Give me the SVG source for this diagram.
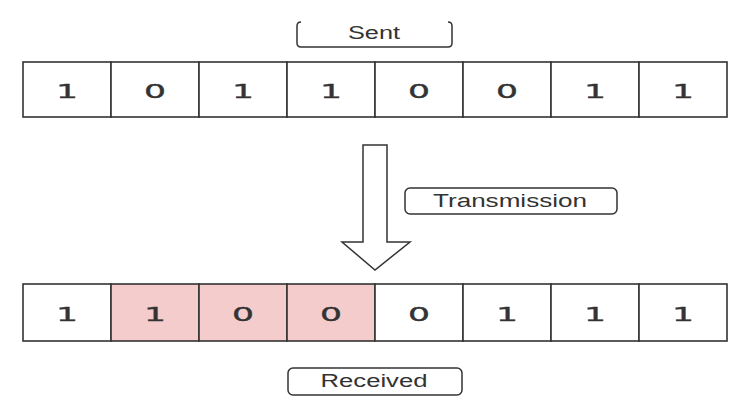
<svg xmlns="http://www.w3.org/2000/svg" width="747" height="412" viewBox="0 0 747 412">
  <style>
    .cell { fill: #ffffff; stroke: #333333; stroke-width: 1.6; }
    .flip { fill: #f4cccc; stroke: #333333; stroke-width: 1.6; }
    .bit { font-family: "DejaVu Sans", sans-serif; font-size: 19px; fill: #333333; stroke: #333333; stroke-width: 0.35; text-anchor: middle; }
    .label { font-family: "Liberation Sans", Arial, sans-serif; font-size: 18px; fill: #333333; text-anchor: middle; }
    .box { fill: #ffffff; stroke: #333333; stroke-width: 1.5; }
  </style>

  <!-- sent bit string -->
  <g id="sent-row">
    <rect class="cell" x="23" y="62" width="88" height="55"/>
    <rect class="cell" x="111" y="62" width="88" height="55"/>
    <rect class="cell" x="199" y="62" width="88" height="55"/>
    <rect class="cell" x="287" y="62" width="88" height="55"/>
    <rect class="cell" x="375" y="62" width="88" height="55"/>
    <rect class="cell" x="463" y="62" width="88" height="55"/>
    <rect class="cell" x="551" y="62" width="88" height="55"/>
    <rect class="cell" x="639" y="62" width="88" height="55"/>
    <text class="bit" x="67" y="98" textLength="22" lengthAdjust="spacingAndGlyphs">1</text>
    <text class="bit" x="155" y="98" textLength="22" lengthAdjust="spacingAndGlyphs">0</text>
    <text class="bit" x="243" y="98" textLength="22" lengthAdjust="spacingAndGlyphs">1</text>
    <text class="bit" x="331" y="98" textLength="22" lengthAdjust="spacingAndGlyphs">1</text>
    <text class="bit" x="419" y="98" textLength="22" lengthAdjust="spacingAndGlyphs">0</text>
    <text class="bit" x="507" y="98" textLength="22" lengthAdjust="spacingAndGlyphs">0</text>
    <text class="bit" x="595" y="98" textLength="22" lengthAdjust="spacingAndGlyphs">1</text>
    <text class="bit" x="683" y="98" textLength="22" lengthAdjust="spacingAndGlyphs">1</text>
  </g>

  <!-- received bit string, flipped bits shaded -->
  <g id="received-row">
    <rect class="cell" x="23" y="284" width="88" height="57"/>
    <rect class="flip" x="111" y="284" width="88" height="57"/>
    <rect class="flip" x="199" y="284" width="88" height="57"/>
    <rect class="flip" x="287" y="284" width="88" height="57"/>
    <rect class="cell" x="375" y="284" width="88" height="57"/>
    <rect class="cell" x="463" y="284" width="88" height="57"/>
    <rect class="cell" x="551" y="284" width="88" height="57"/>
    <rect class="cell" x="639" y="284" width="88" height="57"/>
    <text class="bit" x="67" y="321" textLength="22" lengthAdjust="spacingAndGlyphs">1</text>
    <text class="bit" x="155" y="321" textLength="22" lengthAdjust="spacingAndGlyphs">1</text>
    <text class="bit" x="243" y="321" textLength="22" lengthAdjust="spacingAndGlyphs">0</text>
    <text class="bit" x="331" y="321" textLength="22" lengthAdjust="spacingAndGlyphs">0</text>
    <text class="bit" x="419" y="321" textLength="22" lengthAdjust="spacingAndGlyphs">0</text>
    <text class="bit" x="507" y="321" textLength="22" lengthAdjust="spacingAndGlyphs">1</text>
    <text class="bit" x="595" y="321" textLength="22" lengthAdjust="spacingAndGlyphs">1</text>
    <text class="bit" x="683" y="321" textLength="22" lengthAdjust="spacingAndGlyphs">1</text>
  </g>

  <!-- "Sent" caption in an open-topped box -->
  <g id="sent-label">
    <path d="M 301,22 Q 297,22 297,26 L 297,43 Q 297,47 301,47 L 448,47 Q 452,47 452,43 L 452,26 Q 452,22 448,22" fill="#ffffff" stroke="#333333" stroke-width="1.5"/>
    <text class="label" x="374" y="39" textLength="52" lengthAdjust="spacingAndGlyphs">Sent</text>
  </g>

  <g id="transmission-label">
    <rect class="box" x="405" y="188" width="212" height="26" rx="5"/>
    <text class="label" x="510" y="207" textLength="154" lengthAdjust="spacingAndGlyphs">Transmission</text>
  </g>

  <g id="received-label">
    <rect class="box" x="288" y="368" width="174" height="27" rx="5"/>
    <text class="label" x="374" y="387" font-size="17" textLength="107" lengthAdjust="spacingAndGlyphs">Received</text>
  </g>

  <!-- block arrow from sent to received -->
  <g id="connectors">
    <polygon points="363,145 387,145 387,242 410,242 375,270 342,242 363,242" fill="#ffffff" stroke="#333333" stroke-width="1.5" stroke-linejoin="miter"/>
  </g>
</svg>
